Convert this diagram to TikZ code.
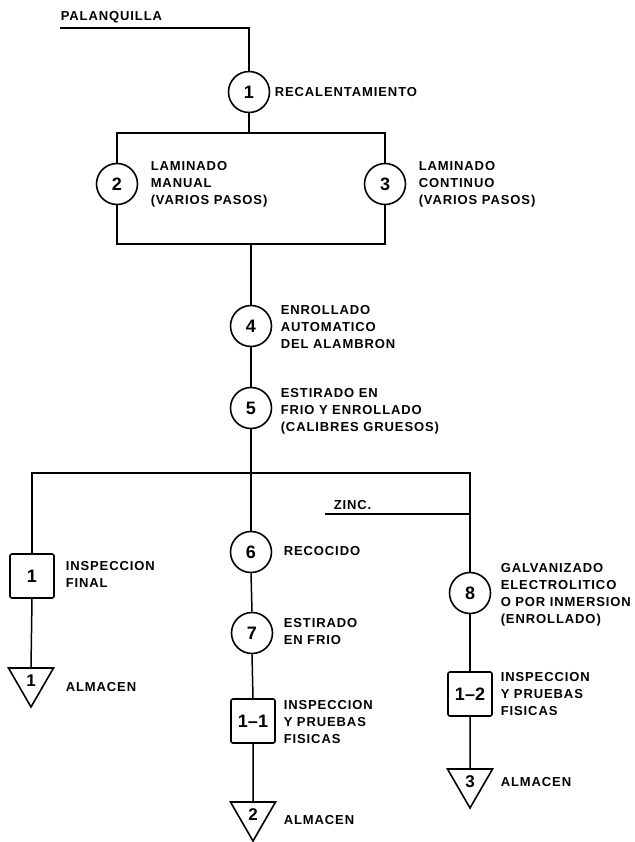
\documentclass[tikz,border=0pt]{standalone}
\usepackage{fontspec}
\newfontfamily\lf{Liberation Sans Bold}[LetterSpace=7]
\newfontfamily\nf{Liberation Sans Bold}
\usetikzlibrary{shapes.geometric}
\begin{document}
\begin{tikzpicture}[x=1pt,y=-1pt,
  line width=1.5pt,
  proc/.style={circle, draw, line width=1.6pt, minimum size=41pt, inner sep=0pt, font=\nf\fontsize{18}{18}\selectfont},
  insp/.style={rectangle, draw, line width=1.6pt, rounded corners=2pt, minimum size=44pt, inner sep=0pt, font=\nf\fontsize{18}{18}\selectfont},
  store/.style={regular polygon, regular polygon sides=3, shape border rotate=180, draw, line width=1.6pt, minimum size=52pt, inner sep=0pt, font=\nf\fontsize{17}{17}\selectfont},
  lbl/.style={anchor=west, align=left, inner sep=0pt, font=\lf\fontsize{13}{17}\selectfont}]
\useasboundingbox (0,0) rectangle (634,842);
\fill[white] (0,0) rectangle (634,842);

% top
\node[lbl] (pal) at (60,17) {PALANQUILLA};
\coordinate (p0) at (60,28);
\node[proc] (c1) at (249,92) {1};
\node[lbl] (t1) at (274,92) {RECALENTAMIENTO};
\coordinate (top) at (249,133);
\coordinate (bot) at (251,244);
\node[proc] (c2) at (117,184) {2};
\node[proc] (c3) at (385,184) {3};
\node[lbl] (t2) at (150,184) {LAMINADO\\MANUAL\\(VARIOS PASOS)};
\node[lbl] (t3) at (418,184) {LAMINADO\\CONTINUO\\(VARIOS PASOS)};
\node[proc] (c4) at (251,326) {4};
\node[lbl] (t4) at (280,327) {ENROLLADO\\AUTOMATICO\\DEL ALAMBRON};
\node[proc] (c5) at (251,408) {5};
\node[lbl] (t5) at (280,411) {ESTIRADO EN\\FRIO Y ENROLLADO\\(CALIBRES GRUESOS)};
\coordinate (split) at (251,473);

% left branch
\node[insp] (b1) at (32,576) {1};
\node[lbl] (tb1) at (65,574) {INSPECCION\\FINAL};
\node[store] (s1) at (31,681) {1};
\node[lbl] (ts1) at (65,687) {ALMACEN};

% centre branch
\node[proc] (c6) at (251,552) {6};
\node[lbl] (t6) at (283,551) {RECOCIDO};
\node[proc] (c7) at (252,633) {7};
\node[lbl] (t7) at (283,632) {ESTIRADO\\EN FRIO};
\node[insp] (b2) at (253,721) {1–1};
\node[lbl] (tb2) at (283,722) {INSPECCION\\Y PRUEBAS\\FISICAS};
\node[store] (s2) at (253,815) {2};
\node[lbl] (ts2) at (283,820) {ALMACEN};

% right branch
\node[lbl] (zinc) at (333,505) {ZINC.};
\coordinate (z0) at (325,514);
\node[proc] (c8) at (470,593) {8};
\node[lbl] (t8) at (500,595) {GALVANIZADO\\ELECTROLITICO\\O POR INMERSION\\(ENROLLADO)};
\node[insp] (b3) at (470,694) {1–2};
\node[lbl] (tb3) at (500,694) {INSPECCION\\Y PRUEBAS\\FISICAS};
\node[store] (s3) at (470,782) {3};
\node[lbl] (ts3) at (500,782) {ALMACEN};

% connectors
\draw (p0) -| (c1.north);
\draw (c1.south) -- (top);
\draw (c2.north) -- (c2.north |- top) -- (c3.north |- top) -- (c3.north);
\draw (c2.south) -- (c2.south |- bot) -- (c3.south |- bot) -- (c3.south);
\draw (bot) -- (c4.north);
\draw (c4.south) -- (c5.north);
\draw (c5.south) -- (c6.north);
\draw (b1.north) |- (c8.north |- split) -- (c8.north);
\draw (b1.south) -- (s1.north);
\draw (c6.south) -- (c7.north);
\draw (c7.south) -- (b2.north);
\draw (b2.south) -- (s2.north);
\draw (z0) -- (z0 -| c8);
\draw (c8.south) -- (b3.north);
\draw (b3.south) -- (s3.north);
\end{tikzpicture}
\end{document}
